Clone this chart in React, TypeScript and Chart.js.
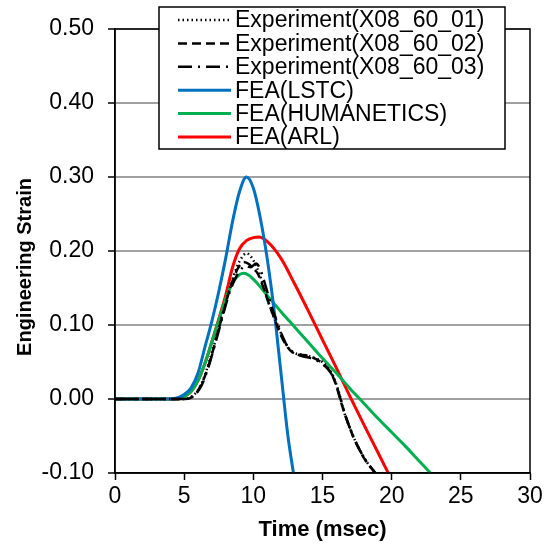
import React, { useEffect, useRef } from "react";
import { Chart, registerables } from "chart.js";

Chart.register(...registerables);

const xTicks = [0, 5, 10, 15, 20, 25, 30];
const yTicks = [-0.1, 0, 0.1, 0.2, 0.3, 0.4, 0.5];

const seriesNames = [
  "Experiment(X08_60_01)",
  "Experiment(X08_60_02)",
  "Experiment(X08_60_03)",
  "FEA(LSTC)",
  "FEA(HUMANETICS)",
  "FEA(ARL)",
];

const exp01T = [0, 5, 5.3, 5.6, 6, 6.4, 6.8, 7.2, 7.6, 8, 8.4, 8.8, 9.2, 9.5, 9.8, 10.2, 10.6, 11, 11.4, 11.8, 12.2, 12.6, 13, 13.5, 14, 14.5, 15, 15.4, 15.8, 16.2, 16.6, 17, 17.4, 17.8, 18.2, 18.6, 19];
const exp01S = [0, 0, 0.001, 0.004, 0.012, 0.027, 0.05, 0.075, 0.103, 0.13, 0.155, 0.178, 0.192, 0.197, 0.193, 0.18, 0.16, 0.136, 0.115, 0.098, 0.08, 0.068, 0.062, 0.06, 0.058, 0.055, 0.05, 0.042, 0.03, 0.008, -0.02, -0.04, -0.058, -0.072, -0.085, -0.095, -0.103];

const exp02T = [0, 5, 5.4, 5.8, 6.2, 6.6, 7, 7.4, 7.8, 8.2, 8.6, 9, 9.3, 9.7, 10, 10.3, 10.7, 11.1, 11.5, 11.9, 12.3, 12.7, 13.2, 13.8, 14.3, 14.8, 15.3, 15.7, 16, 16.4, 16.8, 17.2, 17.6, 18, 18.4, 18.8];
const exp02S = [0, 0, 0.001, 0.006, 0.018, 0.036, 0.06, 0.088, 0.115, 0.142, 0.165, 0.18, 0.185, 0.182, 0.176, 0.17, 0.152, 0.13, 0.11, 0.09, 0.075, 0.065, 0.06, 0.059, 0.056, 0.051, 0.043, 0.032, 0.018, -0.008, -0.03, -0.05, -0.066, -0.08, -0.09, -0.1];

const exp03T = [0, 5, 5.5, 5.9, 6.3, 6.7, 7.1, 7.5, 7.9, 8.3, 8.7, 9.1, 9.4, 9.8, 10.2, 10.5, 10.9, 11.3, 11.7, 12.1, 12.5, 13, 13.5, 14, 14.5, 15, 15.5, 15.9, 16.3, 16.7, 17.1, 17.5, 17.9, 18.3, 18.7, 19.1];
const exp03S = [0, 0, 0.002, 0.008, 0.02, 0.04, 0.065, 0.092, 0.12, 0.145, 0.163, 0.175, 0.18, 0.178, 0.183, 0.175, 0.152, 0.126, 0.105, 0.085, 0.07, 0.062, 0.058, 0.056, 0.053, 0.047, 0.038, 0.024, 0.0, -0.025, -0.045, -0.062, -0.076, -0.088, -0.097, -0.106];

const lstcT = [0, 4, 4.6, 5, 5.5, 6, 6.5, 7, 7.5, 8, 8.5, 9, 9.5, 10, 10.5, 11, 11.5, 12, 12.5, 12.9];
const lstcS = [0, 0, 0.002, 0.006, 0.015, 0.035, 0.07, 0.105, 0.145, 0.19, 0.24, 0.28, 0.3, 0.285, 0.245, 0.19, 0.12, 0.035, -0.05, -0.1];

const humT = [0, 4.5, 5, 5.5, 6, 6.5, 7, 7.5, 8, 8.5, 9, 9.3, 9.7, 10.2, 11, 12, 13, 14, 15, 16, 17, 18, 19, 20, 21, 22, 22.8];
const humS = [0, 0, 0.003, 0.01, 0.025, 0.048, 0.077, 0.106, 0.135, 0.157, 0.168, 0.17, 0.167, 0.158, 0.14, 0.118, 0.097, 0.076, 0.055, 0.035, 0.014, -0.006, -0.026, -0.045, -0.064, -0.084, -0.1];

const arlT = [0, 4.5, 5, 5.5, 6, 6.5, 7, 7.5, 8, 8.5, 9, 9.5, 10, 10.4, 11, 12, 13, 14, 15, 16, 17, 18, 19, 19.75];
const arlS = [0, 0, 0.003, 0.01, 0.025, 0.048, 0.077, 0.108, 0.14, 0.178, 0.203, 0.214, 0.218, 0.219, 0.213, 0.19, 0.155, 0.118, 0.08, 0.042, 0.003, -0.035, -0.072, -0.1];

const toPts = (t: number[], s: number[]) => t.map((x, i) => ({ x, y: s[i] }));

const FONT = "'Liberation Sans', Arial, sans-serif";

const styles = [
  { color: "#000000", dash: [1.5, 3], width: 2.5 },
  { color: "#000000", dash: [9, 5], width: 2.5 },
  { color: "#000000", dash: [14, 6, 2, 6], width: 2.5 },
  { color: "#0070C0", dash: [], width: 3 },
  { color: "#00B050", dash: [], width: 3 },
  { color: "#FF0000", dash: [], width: 3 },
];

const decorPlugin = {
  id: "decor",
  afterDatasetsDraw(chart: any) {
    const { ctx, chartArea } = chart;
    const { left, right, top, bottom } = chartArea;
    ctx.save();
    // plot border
    ctx.strokeStyle = "#000";
    ctx.lineWidth = 1.5;
    ctx.setLineDash([]);
    ctx.strokeRect(left, top, right - left, bottom - top);

    // legend box
    const bx = 159, by = 7, bw = 346, bh = 142;
    ctx.fillStyle = "#fff";
    ctx.fillRect(bx, by, bw, bh);
    ctx.strokeStyle = "#000";
    ctx.lineWidth = 1.5;
    ctx.strokeRect(bx, by, bw, bh);
    ctx.font = `23px ${FONT}`;
    ctx.textBaseline = "middle";
    ctx.textAlign = "left";
    seriesNames.forEach((name, i) => {
      const y = 20 + i * 23.4;
      const st = styles[i];
      ctx.beginPath();
      ctx.strokeStyle = st.color;
      ctx.lineWidth = st.width;
      ctx.setLineDash(st.dash);
      ctx.moveTo(178, y);
      ctx.lineTo(231, y);
      ctx.stroke();
      ctx.setLineDash([]);
      ctx.fillStyle = "#000";
      ctx.fillText(name, 235, y + 1);
    });

    // axis titles
    ctx.fillStyle = "#000";
    ctx.font = `bold 20px ${FONT}`;
    ctx.textAlign = "center";
    ctx.textBaseline = "middle";
    ctx.save();
    ctx.translate(25, 267);
    ctx.rotate(-Math.PI / 2);
    ctx.fillText("Engineering Strain", 0, 0);
    ctx.restore();
    ctx.font = `bold 22px ${FONT}`;
    ctx.fillText("Time (msec)", (left + right) / 2, 530);
    ctx.restore();
  },
};

export default function App() {
  const ref = useRef<HTMLCanvasElement>(null);
  useEffect(() => {
    document.body.style.margin = "0";
    const allT = [exp01T, exp02T, exp03T, lstcT, humT, arlT];
    const allS = [exp01S, exp02S, exp03S, lstcS, humS, arlS];
    const chart = new Chart(ref.current!, {
      type: "line",
      data: {
        datasets: seriesNames.map((name, i) => ({
          label: name,
          data: toPts(allT[i], allS[i]),
          borderColor: styles[i].color,
          borderWidth: styles[i].width,
          borderDash: styles[i].dash,
          pointRadius: 0,
          fill: false,
          cubicInterpolationMode: "monotone" as const,
        })),
      },
      options: {
        animation: false,
        responsive: false,
        layout: { padding: { left: 0, right: 17, top: 29, bottom: 0 } },
        plugins: { legend: { display: false }, tooltip: { enabled: false } },
        scales: {
          x: {
            type: "linear",
            min: 0,
            max: 30,
            afterBuildTicks: (s: any) => {
              s.ticks = xTicks.map((v) => ({ value: v }));
            },
            afterFit: (s: any) => {
              s.height = 79;
            },
            ticks: {
              font: { family: FONT, size: 23 },
              color: "#000",
              padding: 3,
              maxRotation: 0,
              autoSkip: false,
              callback: (v: any) => String(v),
            },
            grid: {
              drawOnChartArea: false,
              drawTicks: true,
              tickLength: 7,
              tickColor: "#000",
              tickWidth: 1.5,
            },
            border: { color: "#000", width: 1.5 },
          },
          y: {
            type: "linear",
            min: -0.1,
            max: 0.5,
            afterBuildTicks: (s: any) => {
              s.ticks = yTicks.map((v) => ({ value: v }));
            },
            afterFit: (s: any) => {
              s.width = 115;
            },
            ticks: {
              font: { family: FONT, size: 23 },
              color: "#000",
              padding: 14,
              autoSkip: false,
              callback: (v: any) => Number(v).toFixed(2),
            },
            grid: {
              color: "#a0a0a0",
              lineWidth: 2,
              drawTicks: true,
              tickLength: 7,
              tickColor: "#000",
              tickWidth: 1.5,
            },
            border: { color: "#000", width: 1.5 },
          },
        },
      },
      plugins: [decorPlugin],
    });
    return () => chart.destroy();
  }, []);
  return (
    <div style={{ position: "absolute", left: 0, top: 0, width: 547, height: 552, background: "#fff" }}>
      <canvas ref={ref} width={547} height={552} style={{ width: 547, height: 552, display: "block" }} />
    </div>
  );
}
